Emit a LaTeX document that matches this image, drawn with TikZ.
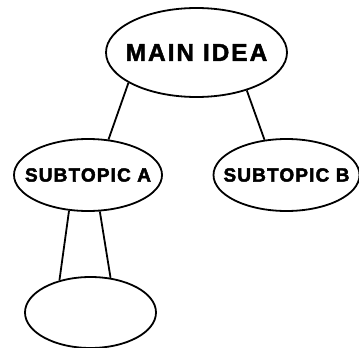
\documentclass[tikz,border=0pt]{standalone}
\usepackage{fontspec}
\setmainfont{Liberation Sans}
\newfontfamily\mainfnt{Liberation Sans Bold}[LetterSpace=8]
\newfontfamily\subfnt{Liberation Sans Bold}[LetterSpace=6]
\newcommand\heavytxt[1]{\special{pdf:literal direct 2 Tr 0.45 w}#1\special{pdf:literal direct 0 Tr}}
\usetikzlibrary{shapes.geometric}
\begin{document}
\begin{tikzpicture}[x=1pt,y=-1pt,
  bubble/.style={draw=black,line width=1.8pt,ellipse,inner sep=0pt,fill=white},
  link/.style={draw=black,line width=1.8pt},
  mainlbl/.style={font=\mainfnt\fontsize{24.5}{26}\selectfont},
  sublbl/.style={font=\subfnt\fontsize{19}{22}\selectfont}]
\useasboundingbox (0,0) rectangle (359,348);
\node[bubble,minimum width=181pt,minimum height=89pt] (main) at (196.5,52.5) {};
\node[mainlbl] (maint) at (main.center) {\heavytxt{MAIN IDEA}};
\node[bubble,minimum width=148pt,minimum height=72pt] (a) at (88,175) {};
\node[sublbl] (at) at (a.center) {\heavytxt{SUBTOPIC A}};
\node[bubble,minimum width=146pt,minimum height=72pt] (b) at (286.5,175) {};
\node[sublbl] (bt) at (b.center) {\heavytxt{SUBTOPIC B}};
\node[bubble,minimum width=131pt,minimum height=71pt] (c) at (90.5,312.5) {};
\draw[link] (main.204) -- (a.60);
\draw[link] (main.323) -- (b.122);
\draw[link] (a.242) -- (c.134);
\draw[link] (a.288) -- (c.60);
\end{tikzpicture}
\end{document}
